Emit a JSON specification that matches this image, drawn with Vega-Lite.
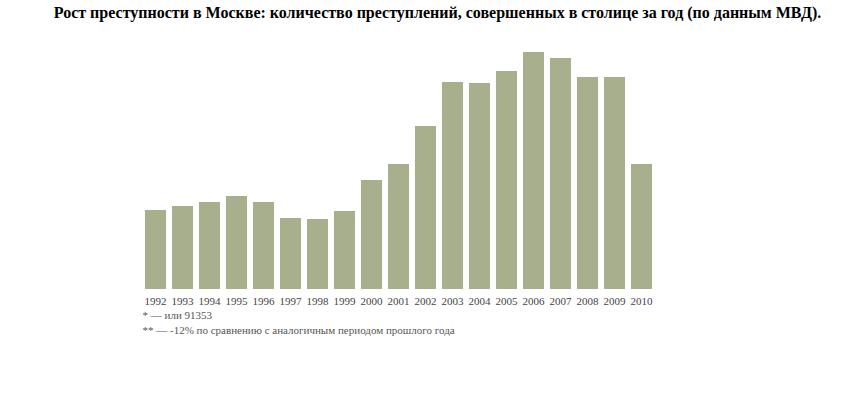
{
  "$schema": "https://vega.github.io/schema/vega-lite/v6.json",
  "background": "white",
  "autosize": {"type": "none"},
  "padding": {"left": 142, "top": 39, "right": 207, "bottom": 121},
  "width": 513,
  "height": 250,
  "config": {
    "view": {"stroke": null},
    "font": "Liberation Serif"
  },
  "title": {
    "text": "Рост преступности в Москве: количество преступлений, совершенных в столице за год (по данным МВД).",
    "font": "Liberation Serif",
    "fontSize": 16,
    "fontWeight": "bold",
    "color": "#000000",
    "anchor": "middle",
    "dx": 39,
    "offset": 18
  },
  "data": {
    "values": [
      {"year": "1992", "crimes": 79000},
      {"year": "1993", "crimes": 83000},
      {"year": "1994", "crimes": 87000},
      {"year": "1995", "crimes": 93000},
      {"year": "1996", "crimes": 87000},
      {"year": "1997", "crimes": 71000},
      {"year": "1998", "crimes": 70000},
      {"year": "1999", "crimes": 78000},
      {"year": "2000", "crimes": 109000},
      {"year": "2001", "crimes": 125000},
      {"year": "2002", "crimes": 163000},
      {"year": "2003", "crimes": 207000},
      {"year": "2004", "crimes": 206000},
      {"year": "2005", "crimes": 218000},
      {"year": "2006", "crimes": 237000},
      {"year": "2007", "crimes": 231000},
      {"year": "2008", "crimes": 212000},
      {"year": "2009", "crimes": 212000},
      {"year": "2010", "crimes": 125000}
    ]
  },
  "mark": {"type": "bar", "color": "#a7af8c"},
  "encoding": {
    "x": {
      "field": "year",
      "type": "ordinal",
      "scale": {"paddingInner": 0.22, "paddingOuter": 0.11},
      "axis": {
        "labelAngle": 0,
        "labelFont": "Liberation Serif",
        "labelFontSize": 11,
        "labelColor": "#444444",
        "labelPadding": 6,
        "ticks": false,
        "domain": false,
        "title": [
          "* — или 91353",
          "** — -12% по сравнению с аналогичным периодом прошлого года"
        ],
        "titleFont": "Liberation Serif",
        "titleFontSize": 11,
        "titleFontWeight": "normal",
        "titleColor": "#555555",
        "titleAnchor": "start",
        "titleAlign": "left",
        "titleLineHeight": 15,
        "titlePadding": 3
      }
    },
    "y": {
      "field": "crimes",
      "type": "quantitative",
      "scale": {"domain": [0, 250000], "nice": false},
      "axis": null
    },
    "tooltip": [
      {"field": "year", "type": "ordinal"},
      {"field": "crimes", "type": "quantitative"}
    ]
  }
}
